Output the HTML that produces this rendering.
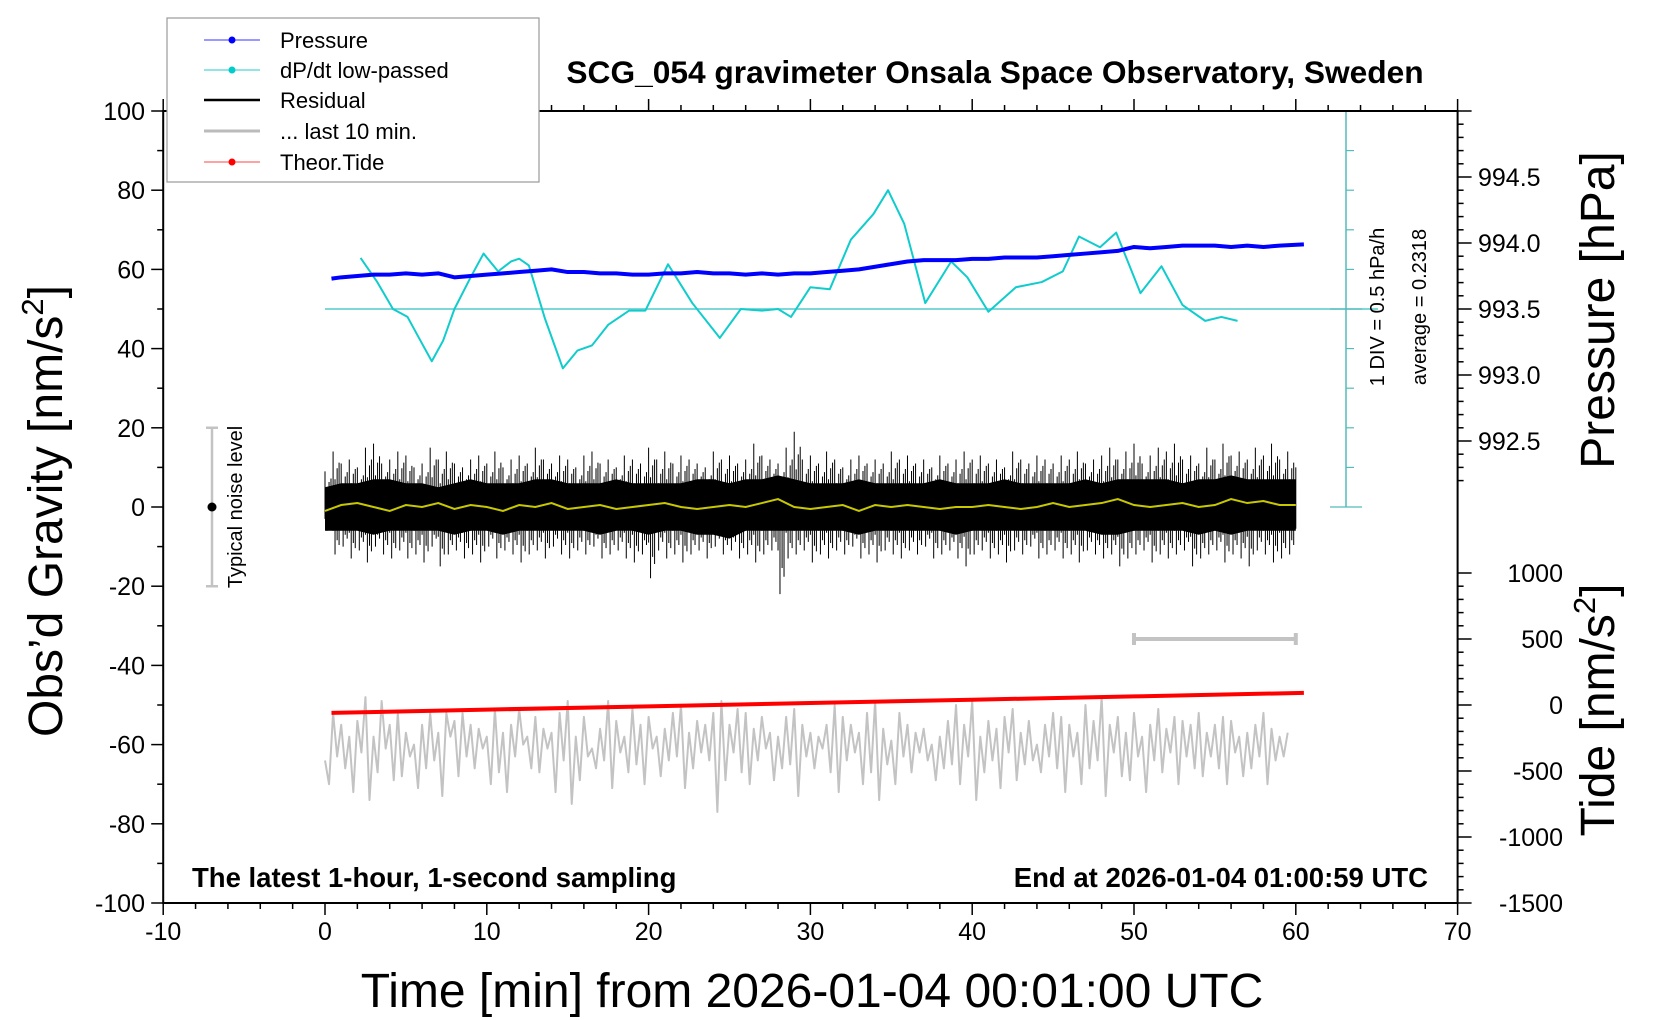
<!DOCTYPE html>
<html><head><meta charset="utf-8"><title>SCG_054 gravimeter</title>
<style>
html,body{margin:0;padding:0;background:#fff;}
svg{display:block;font-family:"Liberation Sans",sans-serif;}
</style></head>
<body>
<svg id="chart" width="1660" height="1020" viewBox="0 0 1660 1020" xmlns="http://www.w3.org/2000/svg">
<rect x="0" y="0" width="1660" height="1020" fill="#fff"/>
<g id="marks"></g>
<g id="axes"></g>
<text x="995" y="83" font-size="31.7" font-weight="bold" text-anchor="middle">SCG_054 gravimeter Onsala Space Observatory, Sweden</text>
<text x="192" y="887" font-size="27.5" font-weight="bold">The latest 1-hour, 1-second sampling</text>
<text x="1428" y="887" font-size="27.5" font-weight="bold" text-anchor="end">End at 2026-01-04 01:00:59 UTC</text>
<text x="812" y="1007" font-size="48" text-anchor="middle">Time [min] from 2026-01-04 00:01:00 UTC</text>
<text transform="translate(62,511) rotate(-90)" font-size="48" text-anchor="middle">Obs’d Gravity [nm/s<tspan font-size="31" dy="-19">2</tspan><tspan dy="19">]</tspan></text>
<text transform="translate(1614,310) rotate(-90)" font-size="48" text-anchor="middle">Pressure [hPa]</text>
<text transform="translate(1614,710) rotate(-90)" font-size="48" text-anchor="middle">Tide [nm/s<tspan font-size="31" dy="-19">2</tspan><tspan dy="19">]</tspan></text>
<text transform="translate(1384,307) rotate(-90)" font-size="20" text-anchor="middle">1 DIV = 0.5 hPa/h</text>
<text transform="translate(1426,307) rotate(-90)" font-size="20" text-anchor="middle">average = 0.2318</text>
<text transform="translate(242,507) rotate(-90)" font-size="20" text-anchor="middle">Typical noise level</text>
<g>
<rect x="167" y="18" width="372" height="164" fill="#fff" stroke="#999" stroke-width="1.2"/>
<g><line x1="204" y1="40" x2="260" y2="40" stroke="#33f" stroke-width="1"/><circle cx="232" cy="40" r="3.5" fill="#00f"/><text x="280" y="48" font-size="22">Pressure</text></g>
<g><line x1="204" y1="70" x2="260" y2="70" stroke="#2cc" stroke-width="1"/><circle cx="232" cy="70" r="3.5" fill="#0cc"/><text x="280" y="78" font-size="22">dP/dt low-passed</text></g>
<g><line x1="204" y1="100" x2="260" y2="100" stroke="#000" stroke-width="2.5"/><text x="280" y="108" font-size="22">Residual</text></g>
<g><line x1="204" y1="131" x2="260" y2="131" stroke="#bbb" stroke-width="3"/><text x="280" y="139" font-size="22">... last 10 min.</text></g>
<g><line x1="204" y1="162" x2="260" y2="162" stroke="#f44" stroke-width="1"/><circle cx="232" cy="162" r="3.5" fill="#f00"/><text x="280" y="170" font-size="22">Theor.Tide</text></g>
</g>
</svg>
<script>
// ---- data ----
const dpdtTime=[2.2,3.2,4.2,5.1,5.9,6.6,7.3,8,9,9.8,10.7,11.5,12,12.6,13.6,14.7,15.6,16.5,17.5,18.8,19.8,21.2,22.7,24.4,25.7,27,28,28.8,30,31.2,32.5,33.9,34.8,35.8,37.1,38.7,39.7,41,42.7,44.3,45.6,46.6,47.9,48.9,50.4,51.7,53,54.4,55.4,56.4];
const dpdtValue=[62.9,57,50,48,42,36.8,42,50,58,64,59.5,62,62.7,61,47.5,35,39.5,40.8,46,49.6,49.6,61.3,51.5,42.7,50,49.6,50,48,55.5,55,67.5,74,80,71.5,51.5,62,58,49.3,55.5,56.8,59.5,68.3,65.6,69.3,54,60.8,51,47,48,47];
const pressTime=[0.4,1,2,3,4,5,6,7,8,9,10,11,12,13,14,15,16,17,18,19,20,21,22,23,24,25,26,27,28,29,30,31,32,33,34,35,36,37,38,39,40,41,42,43,44,45,46,47,48,49,50,51,52,53,54,55,56,57,58,59,60.5];
const pressValue=[993.73,993.74,993.75,993.76,993.76,993.77,993.76,993.77,993.74,993.75,993.76,993.77,993.78,993.79,993.8,993.78,993.78,993.77,993.77,993.76,993.76,993.77,993.77,993.78,993.77,993.77,993.76,993.77,993.76,993.77,993.77,993.78,993.79,993.8,993.82,993.84,993.86,993.87,993.87,993.87,993.88,993.88,993.89,993.89,993.89,993.9,993.91,993.92,993.93,993.94,993.97,993.96,993.97,993.98,993.98,993.98,993.97,993.98,993.97,993.98,993.99];
const resCoreHi=[5,6,6,7,7,6,6,5,6,7,6,6,6,7,7,6,6,6,7,6,6,6,6,7,7,6,7,7,8,7,6,6,6,7,6,6,6,6,7,6,6,6,7,6,6,6,6,7,6,7,7,7,7,6,7,7,8,7,7,7,7];
const resCoreLo=[-6,-6,-6,-7,-6,-6,-6,-6,-7,-6,-6,-7,-6,-6,-6,-6,-6,-7,-6,-6,-7,-6,-6,-7,-7,-8,-6,-6,-6,-6,-6,-6,-6,-7,-6,-6,-6,-6,-6,-7,-6,-6,-6,-6,-6,-6,-6,-6,-7,-7,-6,-6,-6,-6,-7,-6,-7,-6,-6,-6,-6];
const spikeHi=[9,14,11,12,10,15,16,11,12,14,13,10,11,15,12,14,11,10,12,13,11,14,10,12,13,11,15,12,11,13,12,10,13,14,11,12,10,13,12,11,15,12,14,11,13,12,11,10,14,12,13,11,12,16,13,12,11,15,19,12,13,11,14,12,10,12,13,11,12,11,14,12,13,11,12,10,13,11,12,14,12,13,11,12,10,14,12,11,13,12,11,13,12,14,11,12,13,15,12,14,16,11,13,15,14,16,12,13,11,15,12,16,13,14,12,15,13,16,12,14,10];
const spikeLo=[-6,-12,-10,-13,-11,-14,-10,-12,-13,-11,-13,-12,-14,-10,-15,-12,-11,-13,-12,-14,-10,-13,-11,-12,-14,-12,-11,-13,-10,-12,-13,-11,-12,-10,-13,-12,-11,-13,-14,-12,-18,-11,-13,-12,-14,-12,-11,-13,-10,-12,-11,-13,-12,-14,-12,-11,-22,-13,-12,-11,-14,-12,-13,-11,-12,-10,-13,-12,-14,-11,-12,-13,-11,-12,-10,-13,-12,-11,-13,-15,-12,-11,-13,-12,-14,-11,-12,-10,-13,-12,-11,-13,-12,-14,-11,-12,-13,-12,-15,-13,-12,-11,-14,-12,-13,-12,-11,-15,-13,-12,-11,-14,-12,-13,-15,-11,-12,-14,-13,-12,-11];
const smoothVal=[-1,0.5,1,0,-1,0.5,0,1,-0.5,0.5,0,-1,0.5,0,1,-0.5,0,0.5,-0.5,0,0.5,1,0,-0.5,0,0.5,0,1,2,0,-0.5,0,0.5,-1,0.5,0,0.5,0,-0.5,0,0,0.5,0,-0.5,0,1,0,0.5,1,2,0.5,0,0.5,1,0,0.5,2,1,1.5,0.5,0.5];
const grayVal=[-64,-70,-52,-63,-55,-66,-58,-72,-54,-62,-48,-74,-58,-67,-49,-61,-55,-69,-52,-68,-57,-63,-60,-71,-55,-66,-52,-64,-57,-73,-52,-58,-54,-68,-52,-63,-55,-66,-56,-61,-58,-70,-51,-67,-57,-72,-55,-63,-51,-60,-58,-66,-53,-67,-56,-61,-57,-72,-52,-64,-49,-75,-58,-69,-53,-63,-61,-66,-56,-64,-49,-71,-54,-62,-58,-67,-51,-65,-55,-70,-53,-61,-58,-68,-56,-64,-52,-63,-50,-71,-57,-66,-54,-62,-55,-64,-52,-77,-49,-69,-55,-62,-51,-67,-52,-70,-56,-64,-53,-61,-57,-69,-58,-66,-53,-65,-51,-73,-55,-63,-57,-66,-58,-61,-55,-67,-50,-72,-53,-64,-55,-62,-57,-70,-52,-67,-49,-74,-56,-65,-59,-70,-52,-63,-55,-67,-57,-62,-56,-64,-60,-69,-58,-66,-54,-65,-50,-70,-55,-63,-49,-74,-58,-67,-54,-64,-56,-71,-53,-62,-51,-69,-57,-65,-54,-64,-60,-67,-55,-63,-52,-66,-53,-72,-55,-63,-57,-70,-50,-66,-54,-64,-48,-73,-55,-62,-53,-68,-57,-69,-52,-63,-58,-72,-55,-64,-51,-67,-56,-62,-53,-70,-54,-63,-55,-66,-52,-68,-57,-63,-55,-66,-53,-70,-54,-62,-58,-68,-57,-66,-55,-63,-52,-70,-56,-64,-58,-63,-57];
const tideTime=[0.4,10,20,30,40,50,60.5];
const tideValue=[-60,-35,-10,15,40,65,92];
const xTicks=[-10,0,10,20,30,40,50,60,70];
const yTicks=[-100,-80,-60,-40,-20,0,20,40,60,80,100];
const pTicks=[992.5,993.0,993.5,994.0,994.5];
const tTicks=[-1500,-1000,-500,0,500,1000];

// ---- scales ----
const X=t=>325+t*16.18;
const Y=g=>507-g*3.96;
const P=p=>177+(994.5-p)*132;
const T=v=>705-v*0.132;
const NS='http://www.w3.org/2000/svg';
const marks=document.getElementById('marks');
const axes=document.getElementById('axes');
function mk(tag,attrs,parent){const e=document.createElementNS(NS,tag);for(const k in attrs)e.setAttribute(k,attrs[k]);parent.appendChild(e);return e;}

let e=mk('line',{x1:X(0),y1:Y(50),x2:1378,y2:Y(50),stroke:'#5cc',"stroke-width":1.5},marks);


e=mk('line',{x1:1346,y1:Y(100),x2:1346,y2:Y(0),stroke:'#5bb',"stroke-width":1.5},marks);


for(let i=0;i<=10;i++){const y=Y(i*10);const w=(i%5===0)?16:8;mk('line',{x1:1346-(i%5===0?16:0),y1:y,x2:1346+w,y2:y,stroke:'#5bb',"stroke-width":1.2},marks);}

let d='';
resCoreHi.forEach((v,i)=>{d+=(i?'L':'M')+X(i)+','+Y(v);});
for(let i=resCoreLo.length-1;i>=0;i--)d+='L'+X(i)+','+Y(resCoreLo[i]);
e=mk('path',{d:d+'Z',fill:'#000'},marks);


d='';
spikeHi.forEach((v,i)=>{const t=i*0.5;
 const xa=X(t);
 d+='M'+xa+','+Y(spikeLo[i]*0.5)+'L'+xa+','+Y(v);
 if(t>=60)return;
 const xb=X(t+0.12),xc=X(t+0.25),xd=X(t+0.37);
 d+='M'+xb+','+Y(v*0.5)+'L'+xb+','+Y(spikeLo[i]);
 d+='M'+xc+','+Y(spikeLo[i]*0.7)+'L'+xc+','+Y(v*0.7);
 d+='M'+xd+','+Y(v*0.8)+'L'+xd+','+Y(spikeLo[i]*0.8);});
e=mk('path',{d:d,stroke:'#000',"stroke-width":1,fill:'none'},marks);


d='';smoothVal.forEach((v,i)=>{d+=(i?'L':'M')+X(i)+','+Y(v);});
e=mk('path',{d:d,stroke:'#c8c800',"stroke-width":2,fill:'none'},marks);



d='';grayVal.forEach((v,i)=>{d+=(i?'L':'M')+X(i*0.25)+','+Y(v);});
e=mk('path',{d:d,stroke:'#c3c3c3',"stroke-width":2,fill:'none',"stroke-linejoin":'round'},marks);



d='';tideTime.forEach((t,i)=>{d+=(i?'L':'M')+X(t)+','+T(tideValue[i]);});
e=mk('path',{d:d,stroke:'#f00',"stroke-width":4,fill:'none'},marks);



d='';dpdtTime.forEach((t,i)=>{d+=(i?'L':'M')+X(t)+','+Y(dpdtValue[i]);});
e=mk('path',{d:d,stroke:'#1cc',"stroke-width":2,fill:'none',"stroke-linejoin":'round'},marks);



d='';pressTime.forEach((t,i)=>{d+=(i?'L':'M')+X(t)+','+P(pressValue[i]);});
e=mk('path',{d:d,stroke:'#00f',"stroke-width":4,fill:'none',"stroke-linejoin":'round'},marks);



e=mk('path',{d:'M'+X(50)+','+(639-6)+'V'+(639+6)+'M'+X(50)+',639H'+X(60)+'M'+X(60)+','+(639-6)+'V'+(639+6),stroke:'#c3c3c3',"stroke-width":4,fill:'none'},marks);


e=mk('path',{d:'M206,'+Y(20)+'H218M212,'+Y(20)+'V'+Y(-20)+'M206,'+Y(-20)+'H218',stroke:'#c3c3c3',"stroke-width":2.5,fill:'none'},marks);


mk('circle',{cx:212,cy:Y(0),r:4.5,fill:'#000'},marks);

e=mk('rect',{x:X(-10),y:Y(100),width:X(70)-X(-10),height:Y(-100)-Y(100),fill:'none',stroke:'#000',"stroke-width":2},axes);


for(let t=-10;t<=70;t+=2){const maj=t%10===0;mk('line',{x1:X(t),y1:Y(-100),x2:X(t),y2:Y(-100)+(maj?12:6),stroke:'#000',"stroke-width":1.5},axes);mk('line',{x1:X(t),y1:Y(100),x2:X(t),y2:Y(100)-(maj?12:6),stroke:'#000',"stroke-width":1.5},axes);}
xTicks.forEach(t=>{const el=mk('text',{x:X(t),y:940,"font-size":25,"text-anchor":'middle'},axes);el.textContent=t;

});
for(let g=-100;g<=100;g+=10){const maj=g%20===0;mk('line',{x1:X(-10),y1:Y(g),x2:X(-10)-(maj?12:6),y2:Y(g),stroke:'#000',"stroke-width":1.5},axes);}
yTicks.forEach(g=>{const el=mk('text',{x:145,y:Y(g)+9,"font-size":25,"text-anchor":'end'},axes);el.textContent=g;

});
for(let p=992.2;p<=995.001;p+=0.1){const maj=Math.abs(p*2-Math.round(p*2))<0.01;const y=P(p);if(y<Y(100)-1)continue;mk('line',{x1:X(70),y1:y,x2:X(70)+(maj?14:6),y2:y,stroke:'#000',"stroke-width":1.5},axes);}
pTicks.forEach(p=>{const el=mk('text',{x:1478,y:P(p)+9,"font-size":25},axes);el.textContent=p.toFixed(1);

});
for(let v=-1500;v<=1000;v+=100){const maj=v%500===0;mk('line',{x1:X(70),y1:T(v),x2:X(70)+(maj?14:6),y2:T(v),stroke:'#000',"stroke-width":1.5},axes);}
tTicks.forEach(v=>{const el=mk('text',{x:1563,y:T(v)+9,"font-size":25,"text-anchor":'end'},axes);el.textContent=v;

});
</script>
</body></html>
